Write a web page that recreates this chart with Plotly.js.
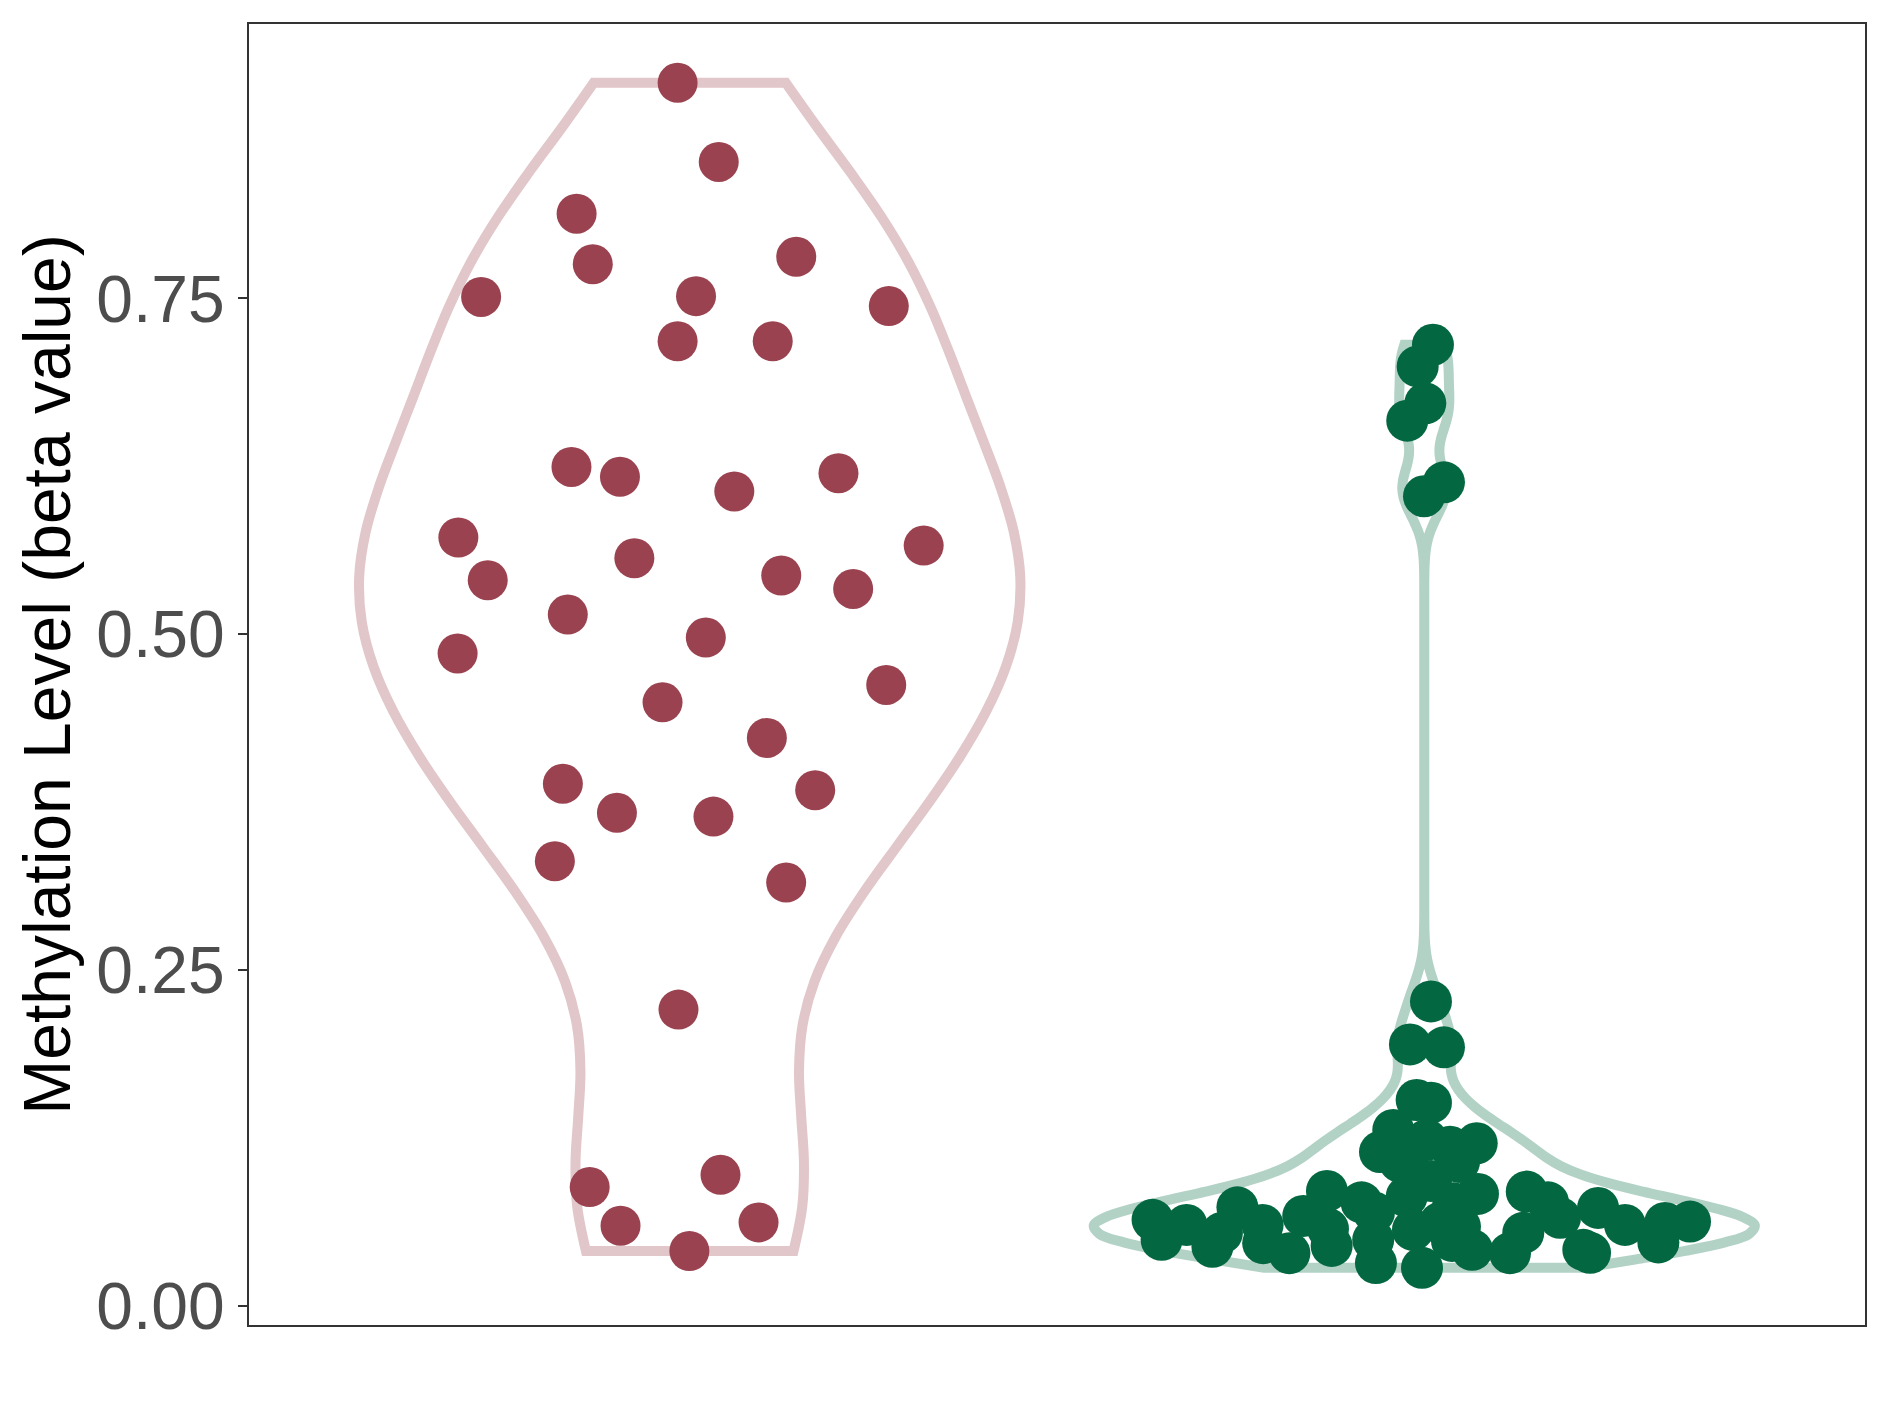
<!DOCTYPE html>
<html>
<head>
<meta charset="utf-8">
<script src="https://cdn.plot.ly/plotly-3.0.1.min.js"></script>
<style>html,body{margin:0;padding:0;background:#fff}</style>
</head>
<body>
<div id="chart" style="width:1889px;height:1417px"></div>
<script>
// ---- data ----
const groupPositions = [0, 1];
const groupColors = ['#9A4250', '#036841'];
const groupLineColors = ['#E1C6CA', '#B3D2C6'];

const redValues = [0.9105, 0.8516, 0.8131, 0.7755, 0.7810, 0.7511, 0.7517, 0.7443, 0.7181, 0.7181,
  0.6245, 0.6172, 0.6199, 0.6063, 0.5720, 0.5660, 0.5402, 0.5566, 0.5437, 0.5337,
  0.5146, 0.4975, 0.4857, 0.4622, 0.4493, 0.4228, 0.3886, 0.3839, 0.3670, 0.3642,
  0.3310, 0.3151, 0.2205, 0.0975, 0.0884, 0.0596, 0.0621, 0.0408];
const redJitter = [-0.0165, 0.0395, -0.154, -0.132, 0.145, -0.284, 0.0086, 0.271, -0.0165, 0.113,
  -0.161, -0.095, 0.2025, 0.0607, -0.315, 0.3185, -0.275, -0.0754, 0.1246, 0.2225,
  -0.166, 0.0219, -0.316, 0.2675, -0.037, 0.105, -0.1727, 0.1708, -0.0991, 0.0323,
  -0.1836, 0.1313, -0.0153, 0.0419, -0.1362, -0.0942, 0.0937, -0.0005];

const greenValues = [0.7155, 0.6994, 0.6719, 0.6590, 0.6131, 0.6027, 0.2266, 0.1946, 0.1924, 0.1532,
  0.1512, 0.1309, 0.1145, 0.1160, 0.1235, 0.1185, 0.1210, 0.0640, 0.0491, 0.0602,
  0.0439, 0.0543, 0.0733, 0.0602, 0.0466, 0.0392, 0.0669, 0.0855, 0.0446, 0.0770,
  0.0695, 0.0318, 0.0491, 0.0813, 0.0565, 0.0283, 0.0833, 0.0764, 0.0590, 0.0617,
  0.0850, 0.0770, 0.0655, 0.0417, 0.0392, 0.0543, 0.0417, 0.0729, 0.0394, 0.0602,
  0.0472, 0.0617, 0.0627, 0.0930, 0.1071, 0.0483, 0.0573, 0.1071];
const greenJitter = [0.0118, -0.0090, 0.0014, -0.0232, 0.0268, -0.0004, 0.0091, -0.0195, 0.0268, -0.0104,
  0.0091, -0.0422, -0.0603, -0.0195, 0.0033, 0.0350, 0.0714, -0.3699, -0.3576, -0.3236,
  -0.2884, -0.2755, -0.2544, -0.2201, -0.2193, -0.1836, -0.1648, -0.1325, -0.1261, -0.0855,
  -0.0685, -0.0658, -0.0695, -0.0240, -0.0154, -0.0031, 0.0731, 0.0395, 0.0486, 0.0214,
  0.1395, 0.1685, 0.1848, 0.0650, 0.1167, 0.1348, 0.2165, 0.2366, 0.2257, 0.2733,
  0.3187, 0.3278, 0.3618, 0.0091, 0.0473, 0.0377, -0.1311, -0.0331];

const yTickVals = [0, 0.25, 0.5, 0.75];
const yTickText = ['0.00', '0.25', '0.50', '0.75'];
const yTitle = 'Methylation Level (beta value)';

// R-style bw.nrd0 bandwidth (kernel parameter, not data)
function nrd0(arr) {
  const s = arr.slice().sort((a, b) => a - b);
  const n = s.length;
  const mean = s.reduce((a, b) => a + b, 0) / n;
  const sd = Math.sqrt(s.reduce((a, b) => a + (b - mean) * (b - mean), 0) / (n - 1));
  const q = p => { const h = (n - 1) * p, lo = Math.floor(h), hi = Math.ceil(h); return s[lo] + (h - lo) * (s[hi] - s[lo]); };
  const iqr = q(0.75) - q(0.25);
  let lo = Math.min(sd, iqr / 1.34);
  if (!(lo > 0)) lo = sd || Math.abs(s[0]) || 1;
  return 0.9 * lo * Math.pow(n, -0.2);
}

const groups = [redValues, greenValues];
const jitters = [redJitter, greenJitter];
const markerSizes = [40, 42];
const traces = [];
groups.forEach((vals, i) => {
  traces.push({
    type: 'violin',
    x0: groupPositions[i],
    y: vals,
    points: false,
    spanmode: 'hard',
    bandwidth: nrd0(vals),
    scalemode: 'width',
    width: 0.9,
    fillcolor: 'rgba(255,255,255,0)',
    line: { color: groupLineColors[i], width: 10 },
    box: { visible: false },
    meanline: { visible: false },
    hoverinfo: 'skip',
    showlegend: false
  });
});
groups.forEach((vals, i) => {
  traces.push({
    type: 'scatter',
    mode: 'markers',
    x: jitters[i].map(d => groupPositions[i] + d),
    y: vals,
    marker: { color: groupColors[i], size: markerSizes[i], line: { width: 0 } },
    hoverinfo: 'skip',
    showlegend: false
  });
});

const layout = {
  width: 1889,
  height: 1417,
  margin: { l: 249, r: 24, t: 24, b: 92 },
  paper_bgcolor: '#ffffff',
  plot_bgcolor: '#ffffff',
  violinmode: 'overlay',
  showlegend: false,
  hovermode: false,
  font: { family: 'Liberation Sans, Arial, sans-serif' },
  xaxis: {
    range: [-0.6, 1.6],
    showgrid: false,
    zeroline: false,
    showticklabels: false,
    ticks: '',
    showline: true,
    mirror: true,
    linecolor: '#333333',
    linewidth: 2
  },
  yaxis: {
    range: [-0.0143, 0.9543],
    tickvals: yTickVals,
    ticktext: yTickText,
    ticks: 'outside',
    ticklen: 9,
    tickwidth: 2,
    tickcolor: '#333333',
    ticklabelstandoff: 0,
    tickfont: { size: 66, color: '#4D4D4D', family: 'Liberation Sans, Arial, sans-serif' },
    showgrid: false,
    zeroline: false,
    showline: true,
    mirror: true,
    linecolor: '#333333',
    linewidth: 2,
    automargin: false,
    title: { text: yTitle, standoff: 4, font: { size: 66, color: '#000000', family: 'Liberation Sans, Arial, sans-serif' } }
  }
};

Plotly.newPlot('chart', traces, layout, { staticPlot: true, displayModeBar: false });
</script>
</body>
</html>
